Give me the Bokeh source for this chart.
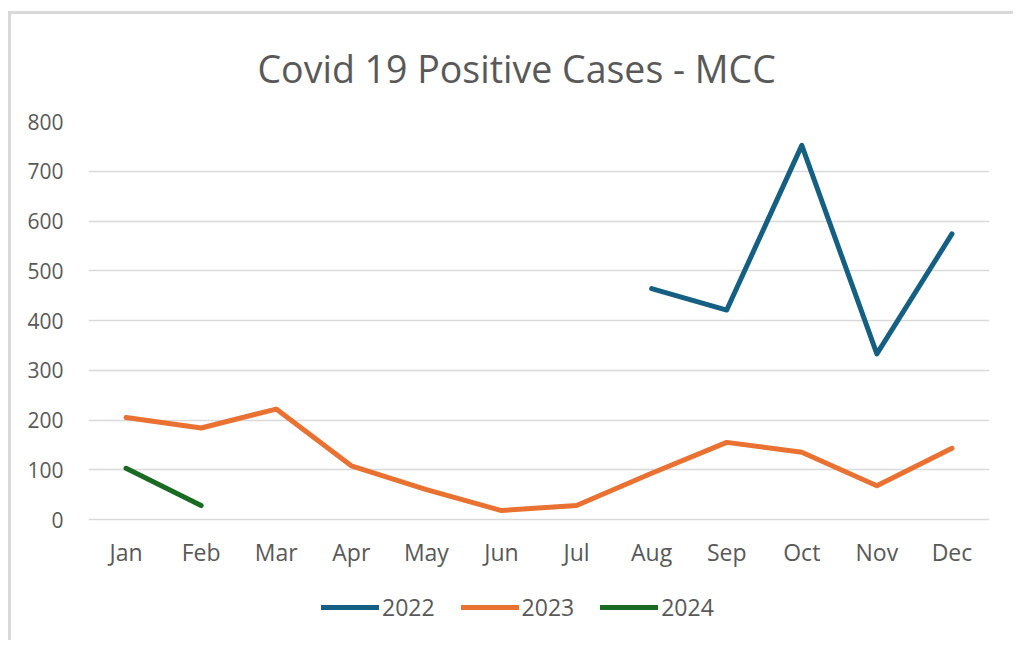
from bokeh.plotting import figure
from bokeh.models import FactorRange, Range1d, FixedTicker, Legend, LegendItem, Title
from bokeh.embed import file_html
from bokeh.resources import INLINE

months = ["Jan", "Feb", "Mar", "Apr", "May", "Jun", "Jul", "Aug", "Sep", "Oct", "Nov", "Dec"]

months_2022 = ["Aug", "Sep", "Oct", "Nov", "Dec"]
cases_2022 = [464, 421, 752, 333, 574]

months_2023 = months
cases_2023 = [205, 184, 222, 108, 60, 18, 28, 93, 155, 135, 68, 143]

months_2024 = ["Jan", "Feb"]
cases_2024 = [103, 28]

y_ticks = [0, 100, 200, 300, 400, 500, 600, 700, 800]

FONT = "Open Sans"
TXT = "#595959"
GRID = "#d9d9d9"

# plot area: 0..800 spans 398 px; frame extended below 0 to hold the legend
PLOT_PX = 398
EXTRA_PX = 121
y_top = y_ticks[-1]
y_bottom = -y_top * EXTRA_PX / PLOT_PX

p = figure(
    x_range=FactorRange(factors=months, range_padding=0),
    y_range=Range1d(y_bottom, y_top),
    frame_width=901, frame_height=PLOT_PX + EXTRA_PX,
    output_backend="svg", toolbar_location=None,
    min_border_left=77, min_border_right=24, min_border_top=107, min_border_bottom=0,
)
p.margin = (11, 0, 0, 8)
p.styles = {"border-top": "3px solid #d9d9d9", "border-left": "3px solid #d9d9d9"}

p.title = Title(text="Covid 19 Positive Cases - MCC", align="left", offset=169,
                vertical_align="middle",
                text_font=FONT, text_font_size="37.5px", text_font_style="normal",
                text_color=TXT, standoff=54)
p.outline_line_color = None

r22 = p.line(months_2022, cases_2022, line_color="#156082", line_width=5, line_join="round", line_cap="round")
r23 = p.line(months_2023, cases_2023, line_color="#E97132", line_width=5, line_join="round", line_cap="round")
r24 = p.line(months_2024, cases_2024, line_color="#196B24", line_width=5, line_join="round", line_cap="round")

p.yaxis.ticker = FixedTicker(ticks=y_ticks)
for ax in (p.xaxis[0], p.yaxis[0]):
    ax.axis_line_color = None
    ax.major_tick_line_color = None
    ax.minor_tick_line_color = None
    ax.major_label_text_font = FONT
    ax.major_label_text_color = TXT
p.yaxis.major_label_text_font_size = "21px"
p.xaxis.major_label_text_font_size = "23px"
p.yaxis.major_label_standoff = 19
p.xaxis.major_label_standoff = 10
p.xaxis.fixed_location = 0

p.xgrid.grid_line_color = None
p.ygrid.grid_line_color = GRID
p.ygrid.grid_line_width = 1.5

legend = Legend(items=[LegendItem(label="2022", renderers=[r22]),
                       LegendItem(label="2023", renderers=[r23]),
                       LegendItem(label="2024", renderers=[r24])],
                orientation="horizontal", location=(233, 17),
                glyph_width=58, glyph_height=20, label_standoff=3, spacing=26,
                label_text_font=FONT, label_text_font_size="23px", label_text_color=TXT,
                border_line_color=None, background_fill_alpha=0, margin=0, padding=0)
p.add_layout(legend, "center")

open("out.html", "w").write(file_html(p, INLINE))
